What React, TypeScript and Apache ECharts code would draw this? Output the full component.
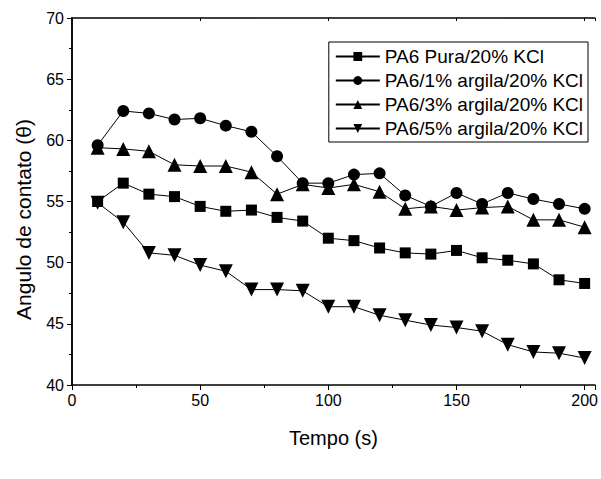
import React, { useEffect, useRef } from "react";
import * as echarts from "echarts";

const times = [10, 20, 30, 40, 50, 60, 70, 80, 90, 100, 110, 120, 130, 140, 150, 160, 170, 180, 190, 200];
const pura = [55.0, 56.5, 55.6, 55.4, 54.6, 54.2, 54.3, 53.7, 53.4, 52.0, 51.8, 51.2, 50.8, 50.7, 51.0, 50.4, 50.2, 49.9, 48.6, 48.3];
const argila1 = [59.6, 62.4, 62.2, 61.7, 61.8, 61.2, 60.7, 58.7, 56.5, 56.5, 57.2, 57.3, 55.5, 54.6, 55.7, 54.8, 55.7, 55.2, 54.8, 54.4];
const argila3 = [59.4, 59.3, 59.1, 58.0, 57.9, 57.9, 57.4, 55.6, 56.4, 56.1, 56.4, 55.8, 54.4, 54.6, 54.3, 54.5, 54.6, 53.5, 53.5, 52.9];
const argila5 = [54.9, 53.3, 50.8, 50.6, 49.8, 49.3, 47.8, 47.8, 47.7, 46.4, 46.4, 45.7, 45.3, 44.9, 44.7, 44.4, 43.3, 42.7, 42.6, 42.2];
const seriesNames = ["PA6 Pura/20% KCl", "PA6/1% argila/20% KCl", "PA6/3% argila/20% KCl", "PA6/5% argila/20% KCl"];

export default function App() {
  const ref = useRef<HTMLDivElement>(null);
  useEffect(() => {
    if (!ref.current) return;
    const chart = echarts.init(ref.current, null, { renderer: "svg" });
    const font = "'Liberation Sans', Arial, sans-serif";
    const mk = (name: string, vals: number[], symbol: string, size: number, rot = 0) => ({
      name,
      type: "line",
      data: times.map((t, i) => [t, vals[i]]),
      symbol,
      symbolSize: size,
      symbolRotate: rot,
      showAllSymbol: true,
      lineStyle: { color: "#000", width: 1 },
      itemStyle: { color: "#000" },
      emphasis: { disabled: true },
    });
    const frameAxis = {
      type: "value",
      axisLine: { show: true, lineStyle: { color: "#000", width: 1.5 } },
      axisTick: { show: true, inside: true, length: 3, lineStyle: { color: "#000" } },
      axisLabel: { show: false },
      splitLine: { show: false },
    };
    chart.setOption({
      animation: false,
      backgroundColor: "#fff",
      grid: { left: 72, right: 4, top: 18, bottom: 94 },
      legend: {
        orient: "vertical",
        right: 13,
        top: 42,
        data: seriesNames,
        itemWidth: 44,
        itemHeight: 11,
        itemGap: 5,
        borderColor: "#000",
        borderWidth: 1,
        borderRadius: 0,
        padding: [5, 5, 4, 6],
        textStyle: { fontFamily: font, fontSize: 19, lineHeight: 19, color: "#000" },
      },
      xAxis: [
        {
          type: "value",
          min: 0,
          max: 204,
          interval: 50,
          name: "Tempo (s)",
          nameLocation: "middle",
          nameGap: 43,
          nameTextStyle: { fontFamily: font, fontSize: 20, color: "#000" },
          axisLine: { lineStyle: { color: "#000", width: 1.5 } },
          axisTick: { inside: false, length: 5, lineStyle: { color: "#000" } },
          minorTick: { show: true, splitNumber: 2, length: 3, lineStyle: { color: "#000" } },
          axisLabel: {
            fontFamily: font,
            fontSize: 16,
            color: "#000",
            margin: 7,
            formatter: (v: number) => (v % 50 === 0 ? String(v) : ""),
          },
          splitLine: { show: false },
        },
        { ...frameAxis, position: "top", min: 0, max: 204, interval: 50 },
      ],
      yAxis: [
        {
          type: "value",
          min: 40,
          max: 70,
          interval: 5,
          name: "Angulo de contato (\u03b8)",
          nameLocation: "middle",
          nameGap: 38,
          nameTextStyle: { fontFamily: font, fontSize: 21, color: "#000", padding: [0, 36, 0, 0] },
          axisLine: { show: true, lineStyle: { color: "#000", width: 1.5 } },
          axisTick: { show: true, inside: false, length: 5, lineStyle: { color: "#000" } },
          minorTick: { show: true, splitNumber: 2, length: 3, lineStyle: { color: "#000" } },
          axisLabel: { fontFamily: font, fontSize: 16, color: "#000", margin: 8 },
          splitLine: { show: false },
        },
        { ...frameAxis, position: "right", min: 40, max: 70, interval: 5 },
      ],
      series: [
        mk(seriesNames[0], pura, "rect", 11),
        mk(seriesNames[1], argila1, "circle", 12),
        mk(seriesNames[2], argila3, "triangle", 14),
        mk(seriesNames[3], argila5, "triangle", 14, 180),
      ],
    });
    return () => chart.dispose();
  }, []);
  return <div ref={ref} style={{ width: 601, height: 479, position: "absolute", left: 0, top: 0 }} />;
}
